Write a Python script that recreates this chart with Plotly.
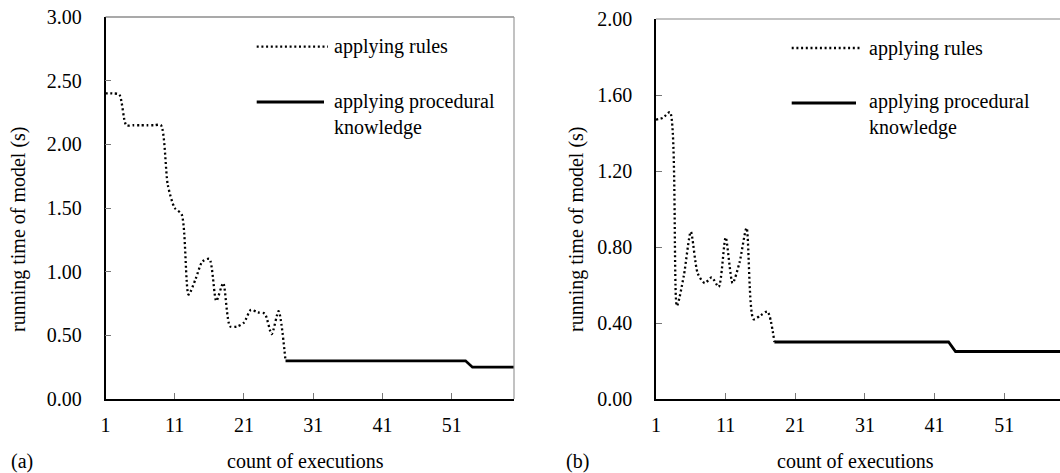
import plotly.graph_objects as go

# ---------------- data ----------------
# (a)
x_rules_a = list(range(1, 28))
rules_a = [2.40, 2.40, 2.39, 2.15, 2.15, 2.15, 2.15, 2.15, 2.15, 1.68,
           1.50, 1.45, 0.82, 0.94, 1.08, 1.10, 0.77, 0.91, 0.57, 0.57,
           0.60, 0.70, 0.68, 0.67, 0.51, 0.69, 0.30]
x_proc_a = list(range(27, 61))
proc_a = [0.30] * 27 + [0.25] * 7

# (b)
x_rules_b = list(range(1, 19))
rules_b = [1.47, 1.48, 1.51, 0.49, 0.65, 0.88, 0.66, 0.61, 0.64, 0.59,
           0.85, 0.61, 0.72, 0.90, 0.42, 0.44, 0.46, 0.30]
x_proc_b = list(range(18, 61))
proc_b = [0.30] * 26 + [0.25] * 17

x_ticks = [1, 11, 21, 31, 41, 51]
y_ticks_a = [0.0, 0.5, 1.0, 1.5, 2.0, 2.5, 3.0]
y_ticks_b = [0.0, 0.4, 0.8, 1.2, 1.6, 2.0]

legend_rules = "applying rules"
legend_proc = "applying procedural<br>knowledge"
x_title = "count of executions"
y_title = "running time of model (s)"
panel_labels = ["(a)", "(b)"]

# ---------------- layout helpers ----------------
W, H = 1060, 473
FONT = "Liberation Serif, Times New Roman, serif"
FS = 20


def fx(px):
    return px / W


def fy(py):
    return 1 - py / H


fig = go.Figure()

dot_style = dict(color="black", width=2.3, dash="2px,2.7px", shape="spline", smoothing=0.7)
solid_style = dict(color="black", width=2.8)

fig.add_trace(go.Scatter(x=x_rules_a, y=rules_a, mode="lines", line=dot_style,
                         xaxis="x", yaxis="y", showlegend=False))
fig.add_trace(go.Scatter(x=x_proc_a, y=proc_a, mode="lines", line=solid_style,
                         xaxis="x", yaxis="y", showlegend=False))
fig.add_trace(go.Scatter(x=x_rules_b, y=rules_b, mode="lines", line=dot_style,
                         xaxis="x2", yaxis="y2", showlegend=False))
fig.add_trace(go.Scatter(x=x_proc_b, y=proc_b, mode="lines", line=solid_style,
                         xaxis="x2", yaxis="y2", showlegend=False))

tickfont = dict(family=FONT, size=FS, color="black")
common_x = dict(tickmode="array", tickvals=x_ticks, ticks="inside", ticklen=6,
                tickcolor="#777", tickwidth=1, showgrid=False, zeroline=False,
                showline=True, linecolor="black", linewidth=1.5, tickfont=tickfont,
                ticklabelstandoff=7, automargin=False, ticklabeloverflow="allow")
common_y = dict(tickmode="array", ticks="inside", ticklen=6, tickcolor="#777",
                tickwidth=1, showgrid=False, zeroline=False, showline=True,
                linecolor="black", linewidth=1.5, tickfont=tickfont, tickformat=".2f",
                ticklabelstandoff=18, automargin=False, ticklabeloverflow="allow")

A_L, A_R, A_T, A_B = 105.5, 514.0, 17.0, 399.0
B_L, B_R, B_T, B_B = 656.0, 1060.0, 19.0, 399.0

fig.update_layout(
    width=W, height=H, autosize=False,
    margin=dict(l=0, r=0, t=0, b=0, pad=0),
    paper_bgcolor="white", plot_bgcolor="white",
    font=dict(family=FONT, size=FS, color="black"),
    xaxis=dict(common_x, domain=[fx(A_L), fx(A_R)], range=[1, 60], anchor="y"),
    yaxis=dict(common_y, domain=[fy(A_B), fy(A_T)], range=[0, 3.0], tickvals=y_ticks_a, anchor="x"),
    xaxis2=dict(common_x, domain=[fx(B_L), fx(B_R)], range=[1, 59], anchor="y2"),
    yaxis2=dict(common_y, domain=[fy(B_B), fy(B_T)], range=[0, 2.0], tickvals=y_ticks_b, anchor="x2"),
)

shapes = []
# frame borders (top / right) in grey
shapes.append(dict(type="line", xref="paper", yref="paper", x0=fx(A_L), x1=fx(A_R), y0=fy(A_T), y1=fy(A_T),
                   line=dict(color="#555", width=1.2)))
shapes.append(dict(type="line", xref="paper", yref="paper", x0=fx(A_R), x1=fx(A_R), y0=fy(A_B), y1=fy(A_T),
                   line=dict(color="#999", width=1.2)))
shapes.append(dict(type="line", xref="paper", yref="paper", x0=fx(B_L), x1=1, y0=fy(B_T), y1=fy(B_T),
                   line=dict(color="#888", width=1.2)))
# legend samples
for (lx0, lx1, ly_r, ly_p) in [(256.7, 328.0, 46.7, 102.0), (791.7, 860.0, 48.0, 103.0)]:
    shapes.append(dict(type="line", xref="paper", yref="paper", x0=fx(lx0), x1=fx(lx1), y0=fy(ly_r), y1=fy(ly_r),
                       line=dict(color="black", width=2.3, dash="2px,2.7px")))
    shapes.append(dict(type="line", xref="paper", yref="paper", x0=fx(lx0), x1=fx(lx1 - 4), y0=fy(ly_p), y1=fy(ly_p),
                       line=dict(color="black", width=2.8)))
fig.update_layout(shapes=shapes)

ann = []
for (tx, ly_r, ly_p) in [(332.0, 46.7, 114.0), (867.0, 48.0, 115.0)]:
    ann.append(dict(xref="paper", yref="paper", x=fx(tx), y=fy(ly_r), text=legend_rules, showarrow=False,
                    xanchor="left", yanchor="middle", align="left", font=dict(family=FONT, size=FS)))
    ann.append(dict(xref="paper", yref="paper", x=fx(tx), y=fy(ly_p), text=legend_proc, showarrow=False,
                    xanchor="left", yanchor="middle", align="left", font=dict(family=FONT, size=FS)))
# axis titles
for (cx, ytx, yty) in [(305.0, 19.0, 229.0), (855.0, 577.0, 229.0)]:
    ann.append(dict(xref="paper", yref="paper", x=fx(cx), y=fy(461), text=x_title, showarrow=False,
                    xanchor="center", yanchor="middle", font=dict(family=FONT, size=FS)))
    ann.append(dict(xref="paper", yref="paper", x=fx(ytx), y=fy(yty), text=y_title, showarrow=False,
                    textangle=-90, xanchor="center", yanchor="middle", font=dict(family=FONT, size=FS)))
# panel labels
for lab, plx in zip(panel_labels, [22.0, 577.0]):
    ann.append(dict(xref="paper", yref="paper", x=fx(plx), y=fy(461), text=lab, showarrow=False,
                    xanchor="center", yanchor="middle", font=dict(family=FONT, size=FS)))
fig.update_layout(annotations=ann)

fig.write_html("out.html", config={"displayModeBar": False},
               post_script="document.body.style.margin='0px';")
